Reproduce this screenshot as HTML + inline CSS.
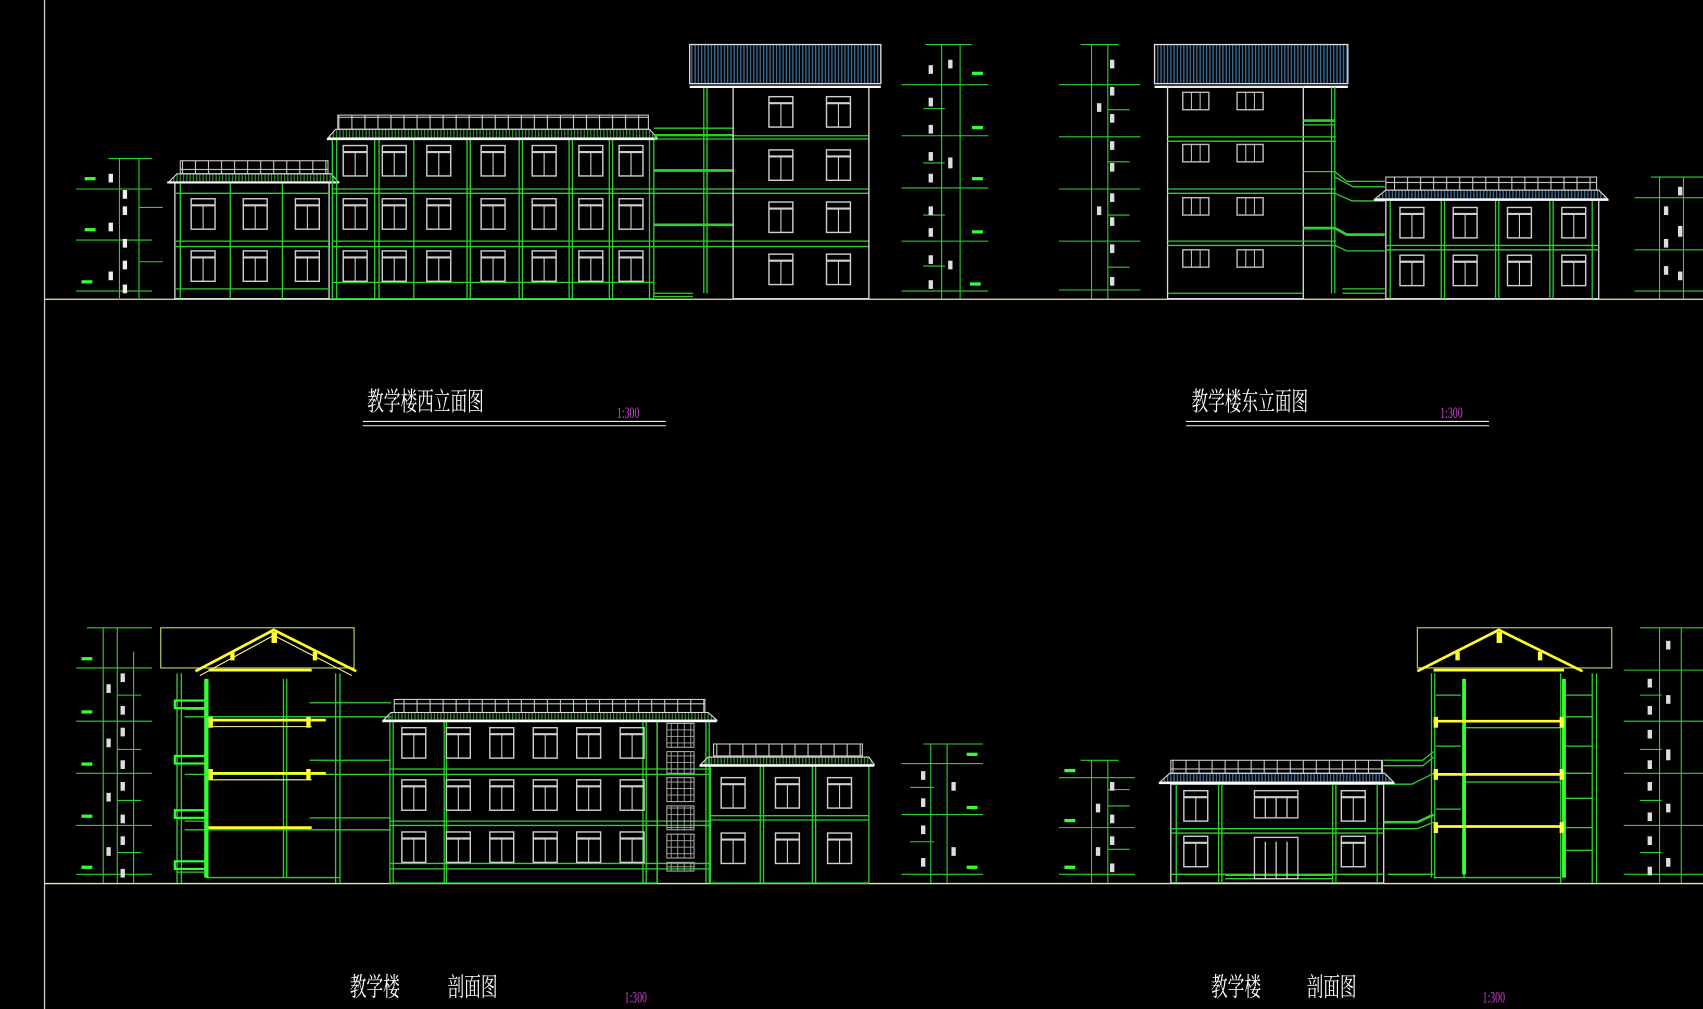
<!DOCTYPE html>
<html><head><meta charset="utf-8"><style>
html,body{margin:0;padding:0;background:#000;overflow:hidden}
svg{display:block}
text{font-family:"Liberation Serif","Noto Serif CJK SC","Noto Sans CJK SC",serif}
</style></head><body>
<svg width="1703" height="1009" viewBox="0 0 1568 929" preserveAspectRatio="none" xmlns="http://www.w3.org/2000/svg">
<defs>
<g id="w"><rect x="0" y="0" width="22" height="28" fill="none" stroke="#cfcfcf" stroke-width="1.3"/><line x1="0" y1="6" x2="22" y2="6" stroke="#cfcfcf" stroke-width="2"/><line x1="11" y1="6" x2="11" y2="28" stroke="#cfcfcf"/></g>
<g id="s"><rect x="0" y="0" width="24" height="16" fill="none" stroke="#bbb" stroke-width="1.3"/><line x1="8" y1="0" x2="8" y2="16" stroke="#bbb"/><line x1="16" y1="0" x2="16" y2="16" stroke="#bbb"/></g>
<pattern id="rail" width="12" height="12" patternUnits="userSpaceOnUse"><rect width="12" height="12" fill="none" stroke="#ccc" stroke-width="1"/></pattern>
<pattern id="blue" width="3" height="10" patternUnits="userSpaceOnUse"><line x1="1" y1="0" x2="1" y2="10" stroke="#3d6f9a" stroke-width="1.2"/></pattern>
<pattern id="gr" width="3" height="10" patternUnits="userSpaceOnUse"><line x1="1" y1="0" x2="1" y2="10" stroke="#3c9a3c" stroke-width="1"/></pattern>
<pattern id="grid" width="6" height="6" patternUnits="userSpaceOnUse"><rect width="6" height="6" fill="none" stroke="#aaa" stroke-width="0.8"/></pattern>
<g id="dimL" stroke="#2fd02f" stroke-width="1" fill="none">
<line x1="40" y1="0" x2="40" y2="130"/><line x1="58" y1="0" x2="58" y2="130"/><line x1="30" y1="0" x2="70" y2="0"/>
<line x1="0" y1="28" x2="70" y2="28"/><line x1="0" y1="75" x2="70" y2="75"/><line x1="0" y1="122" x2="70" y2="122"/>
<line x1="58" y1="45" x2="80" y2="45"/><line x1="58" y1="95" x2="80" y2="95"/>
</g>
</defs>
<rect width="1568" height="929" fill="#000"/>
<line x1="41" y1="0" x2="41" y2="929" stroke="#ccc" stroke-width="1.2"/>

<!-- ======= WEST ELEVATION ======= -->
<line x1="41" y1="275.5" x2="1568" y2="275.5" stroke="#e8e89a" stroke-width="1.2"/>
<g transform="translate(70,146)"><use href="#dimL"/></g>
<g fill="#eee"><rect x="100" y="160" width="4" height="8"/><rect x="100" y="205" width="4" height="8"/><rect x="100" y="250" width="4" height="8"/><rect x="113" y="175" width="4" height="8"/><rect x="113" y="190" width="4" height="8"/><rect x="113" y="220" width="4" height="8"/><rect x="113" y="240" width="4" height="8"/><rect x="113" y="262" width="4" height="8"/></g>
<g fill="#3f3"><rect x="78" y="163" width="10" height="3"/><rect x="78" y="210" width="10" height="3"/><rect x="75" y="258" width="10" height="3"/></g>
<g stroke="#2fd02f" fill="none" stroke-width="1.2">
<rect x="161" y="168" width="142" height="107" stroke="#ddd"/>
<line x1="166" y1="168" x2="166" y2="275"/><line x1="212" y1="168" x2="212" y2="275"/><line x1="260" y1="168" x2="260" y2="275"/>
<line x1="161" y1="178" x2="303" y2="178"/><line x1="161" y1="222" x2="303" y2="222"/><line x1="161" y1="227" x2="303" y2="227"/><line x1="161" y1="266" x2="303" y2="266"/>
</g>
<rect x="166" y="148" width="136" height="12" fill="url(#rail)" stroke="#ccc"/>
<path d="M155 168 L163 160 L305 160 L312 168 Z" fill="url(#gr)" stroke="#ddd"/>
<line x1="154" y1="168" x2="312" y2="168" stroke="#fff" stroke-width="2"/>
<g stroke="#2fd02f" fill="none" stroke-width="1.2">
<rect x="306" y="128" width="296" height="147"/>
<line x1="310" y1="128" x2="310" y2="275"/><line x1="345" y1="128" x2="345" y2="275"/><line x1="349" y1="128" x2="349" y2="275"/><line x1="381" y1="128" x2="381" y2="275"/><line x1="430" y1="128" x2="430" y2="275"/><line x1="433" y1="128" x2="433" y2="275"/><line x1="478" y1="128" x2="478" y2="275"/><line x1="481" y1="128" x2="481" y2="275"/><line x1="524" y1="128" x2="524" y2="275"/><line x1="527" y1="128" x2="527" y2="275"/><line x1="561" y1="128" x2="561" y2="275"/><line x1="564" y1="128" x2="564" y2="275"/><line x1="598" y1="128" x2="598" y2="275"/>
<line x1="306" y1="174" x2="602" y2="174"/><line x1="306" y1="178" x2="602" y2="178"/><line x1="306" y1="222" x2="602" y2="222"/><line x1="306" y1="227" x2="602" y2="227"/><line x1="306" y1="260" x2="602" y2="260"/>
</g>
<rect x="311" y="106" width="286" height="13" fill="url(#rail)" stroke="#ccc"/>
<path d="M302 127 L309 119 L598 119 L605 127 Z" fill="url(#gr)" stroke="#ddd"/>
<line x1="301" y1="128" x2="605" y2="128" stroke="#fff" stroke-width="2"/>
<g stroke="#2fd02f" fill="none" stroke-width="1.2">
<line x1="602" y1="118" x2="675" y2="118"/><line x1="602" y1="124" x2="675" y2="124"/>
<line x1="602" y1="157" x2="675" y2="157" stroke-width="2.5"/><line x1="602" y1="207" x2="675" y2="207" stroke-width="2.5"/>
<line x1="602" y1="174" x2="800" y2="174"/><line x1="602" y1="178" x2="800" y2="178"/><line x1="602" y1="222" x2="800" y2="222"/><line x1="602" y1="227" x2="800" y2="227"/>
<line x1="648" y1="80" x2="648" y2="270"/><line x1="651" y1="80" x2="651" y2="270"/>
<line x1="602" y1="270" x2="638" y2="270"/><line x1="602" y1="273" x2="638" y2="273"/>
<line x1="602" y1="125" x2="800" y2="125"/><line x1="602" y1="128" x2="800" y2="128"/>
</g>
<rect x="675" y="80" width="125" height="195" fill="none" stroke="#ddd" stroke-width="1.2"/>
<rect x="635" y="41" width="176" height="36" fill="url(#blue)" stroke="#ddd" stroke-width="1.2"/>
<line x1="635" y1="80" x2="811" y2="80" stroke="#fff" stroke-width="2"/>
<line x1="635" y1="77" x2="811" y2="77" stroke="#ddd"/>
<g>
<use href="#w" x="176" y="183"/><use href="#w" x="224" y="183"/><use href="#w" x="272" y="183"/>
<use href="#w" x="176" y="231"/><use href="#w" x="224" y="231"/><use href="#w" x="272" y="231"/>
<use href="#w" x="316" y="134"/><use href="#w" x="352" y="134"/><use href="#w" x="393" y="134"/><use href="#w" x="443" y="134"/><use href="#w" x="490" y="134"/><use href="#w" x="533" y="134"/><use href="#w" x="570" y="134"/>
<use href="#w" x="316" y="183"/><use href="#w" x="352" y="183"/><use href="#w" x="393" y="183"/><use href="#w" x="443" y="183"/><use href="#w" x="490" y="183"/><use href="#w" x="533" y="183"/><use href="#w" x="570" y="183"/>
<use href="#w" x="316" y="231"/><use href="#w" x="352" y="231"/><use href="#w" x="393" y="231"/><use href="#w" x="443" y="231"/><use href="#w" x="490" y="231"/><use href="#w" x="533" y="231"/><use href="#w" x="570" y="231"/>
<use href="#w" x="708" y="89"/><use href="#w" x="761" y="89"/><use href="#w" x="708" y="138"/><use href="#w" x="761" y="138"/><use href="#w" x="708" y="186"/><use href="#w" x="761" y="186"/><use href="#w" x="708" y="234"/><use href="#w" x="761" y="234"/>
</g>
<g stroke="#2fd02f" stroke-width="1" fill="none">
<line x1="867" y1="41" x2="867" y2="275"/><line x1="884" y1="41" x2="884" y2="275"/><line x1="852" y1="41" x2="895" y2="41"/>
<line x1="830" y1="78" x2="910" y2="78"/><line x1="830" y1="125" x2="910" y2="125"/><line x1="830" y1="173" x2="910" y2="173"/><line x1="830" y1="222" x2="910" y2="222"/><line x1="830" y1="268" x2="910" y2="268"/>
<line x1="850" y1="100" x2="870" y2="100"/><line x1="850" y1="150" x2="870" y2="150"/><line x1="850" y1="198" x2="870" y2="198"/><line x1="850" y1="245" x2="870" y2="245"/>
</g>
<g fill="#ddd"><rect x="855" y="60" width="4" height="8"/><rect x="855" y="90" width="4" height="8"/><rect x="855" y="115" width="4" height="8"/><rect x="855" y="140" width="4" height="8"/><rect x="855" y="160" width="4" height="8"/><rect x="855" y="190" width="4" height="8"/><rect x="855" y="210" width="4" height="8"/><rect x="855" y="235" width="4" height="8"/><rect x="855" y="258" width="4" height="8"/><rect x="873" y="55" width="4" height="8"/><rect x="873" y="145" width="4" height="10"/><rect x="873" y="240" width="4" height="8"/></g>
<g fill="#3f3"><rect x="895" y="66" width="10" height="3"/><rect x="895" y="116" width="10" height="3"/><rect x="895" y="163" width="10" height="3"/><rect x="895" y="212" width="10" height="3"/><rect x="893" y="260" width="10" height="3"/></g>

<text transform="translate(338,378) scale(0.64,1)" font-size="24" fill="#fff">教学楼西立面图</text>
<text transform="translate(568,385) scale(0.7,1.1)" font-size="13" fill="#d040d0">1:300</text>
<line x1="334" y1="388" x2="613" y2="388" stroke="#eee"/><line x1="334" y1="392" x2="613" y2="392" stroke="#eee"/>

<!-- ======= EAST ELEVATION ======= -->
<g transform="translate(975,41)" stroke="#2fd02f" stroke-width="1" fill="none">
<line x1="30" y1="0" x2="30" y2="234"/><line x1="45" y1="0" x2="45" y2="234"/><line x1="20" y1="0" x2="55" y2="0"/>
<line x1="0" y1="37" x2="75" y2="37"/><line x1="0" y1="85" x2="75" y2="85"/><line x1="0" y1="133" x2="75" y2="133"/><line x1="0" y1="181" x2="75" y2="181"/><line x1="0" y1="226" x2="75" y2="226"/>
<line x1="45" y1="60" x2="65" y2="60"/><line x1="45" y1="108" x2="65" y2="108"/><line x1="45" y1="157" x2="65" y2="157"/><line x1="45" y1="205" x2="65" y2="205"/>
</g>
<g fill="#ddd"><rect x="1010" y="95" width="4" height="8"/><rect x="1010" y="190" width="4" height="8"/><rect x="1022" y="55" width="4" height="8"/><rect x="1022" y="80" width="4" height="8"/><rect x="1022" y="105" width="4" height="8"/><rect x="1022" y="130" width="4" height="8"/><rect x="1022" y="150" width="4" height="8"/><rect x="1022" y="178" width="4" height="8"/><rect x="1022" y="200" width="4" height="8"/><rect x="1022" y="225" width="4" height="8"/><rect x="1022" y="255" width="4" height="8"/></g>
<rect x="1063" y="41" width="178" height="36" fill="url(#blue)" stroke="#ddd" stroke-width="1.2"/>
<line x1="1063" y1="80" x2="1241" y2="80" stroke="#fff" stroke-width="2"/>
<rect x="1075" y="80" width="125" height="195" fill="none" stroke="#ddd" stroke-width="1.2"/>
<g stroke="#2fd02f" fill="none" stroke-width="1.2">
<line x1="1075" y1="126" x2="1230" y2="126"/><line x1="1075" y1="130" x2="1230" y2="130"/><line x1="1075" y1="174" x2="1230" y2="174"/><line x1="1075" y1="178" x2="1230" y2="178"/><line x1="1075" y1="222" x2="1230" y2="222"/><line x1="1075" y1="226" x2="1230" y2="226"/><line x1="1075" y1="270" x2="1200" y2="270"/>
<line x1="1226" y1="80" x2="1226" y2="270"/><line x1="1229" y1="80" x2="1229" y2="270"/>
<line x1="1200" y1="111" x2="1229" y2="111" stroke-width="2.5"/><line x1="1200" y1="115" x2="1229" y2="115"/>
<path d="M1200 158 L1229 158 L1240 167 L1275 167"/><path d="M1229 163 L1246 172 L1275 172"/>
<path d="M1229 178 L1245 185 L1275 185"/>
<path d="M1200 210 L1229 210 L1240 216 L1275 216" stroke-width="2.5"/>
<path d="M1229 226 L1240 231 L1275 231"/>
<line x1="1236" y1="266" x2="1275" y2="266"/><line x1="1236" y1="270" x2="1275" y2="270"/>
<rect x="1276" y="184" width="196" height="91" stroke="#ddd"/>
<line x1="1280" y1="184" x2="1280" y2="275"/><line x1="1327" y1="184" x2="1327" y2="275"/><line x1="1330" y1="184" x2="1330" y2="275"/><line x1="1377" y1="184" x2="1377" y2="275"/><line x1="1380" y1="184" x2="1380" y2="275"/><line x1="1427" y1="184" x2="1427" y2="275"/><line x1="1430" y1="184" x2="1430" y2="275"/><line x1="1466" y1="184" x2="1466" y2="275"/>
<line x1="1276" y1="226" x2="1472" y2="226"/><line x1="1276" y1="230" x2="1472" y2="230"/>
</g>
<rect x="1276" y="163" width="194" height="12" fill="url(#rail)" stroke="#ccc"/>
<path d="M1266 183 L1276 175 L1472 175 L1480 183 Z" fill="url(#blue)" stroke="#ddd"/>
<line x1="1265" y1="184" x2="1481" y2="184" stroke="#fff" stroke-width="2"/>
<g>
<use href="#s" x="1089" y="85"/><use href="#s" x="1139" y="85"/><use href="#s" x="1089" y="133"/><use href="#s" x="1139" y="133"/><use href="#s" x="1089" y="182"/><use href="#s" x="1139" y="182"/><use href="#s" x="1089" y="230"/><use href="#s" x="1139" y="230"/>
<use href="#w" x="1289" y="191"/><use href="#w" x="1338" y="191"/><use href="#w" x="1388" y="191"/><use href="#w" x="1438" y="191"/>
<use href="#w" x="1289" y="235"/><use href="#w" x="1338" y="235"/><use href="#w" x="1388" y="235"/><use href="#w" x="1438" y="235"/>
</g>
<g stroke="#2fd02f" stroke-width="1" fill="none">
<line x1="1528" y1="163" x2="1528" y2="275"/><line x1="1550" y1="163" x2="1550" y2="275"/><line x1="1520" y1="163" x2="1568" y2="163"/>
<line x1="1505" y1="182" x2="1568" y2="182"/><line x1="1505" y1="230" x2="1568" y2="230"/><line x1="1505" y1="268" x2="1568" y2="268"/>
</g>
<g fill="#ddd"><rect x="1532" y="190" width="4" height="8"/><rect x="1532" y="220" width="4" height="8"/><rect x="1532" y="245" width="4" height="8"/><rect x="1545" y="172" width="4" height="8"/><rect x="1545" y="208" width="4" height="10"/><rect x="1545" y="250" width="4" height="8"/></g>

<text transform="translate(1097,378) scale(0.64,1)" font-size="24" fill="#fff">教学楼东立面图</text>
<text transform="translate(1326,385) scale(0.7,1.1)" font-size="13" fill="#d040d0">1:300</text>
<line x1="1092" y1="388" x2="1371" y2="388" stroke="#eee"/><line x1="1092" y1="392" x2="1371" y2="392" stroke="#eee"/>

<!-- ======= SECTION LEFT ======= -->
<line x1="41" y1="813.5" x2="1568" y2="813.5" stroke="#e8e89a" stroke-width="1.2"/>
<g stroke="#2fd02f" stroke-width="1" fill="none">
<line x1="95" y1="578" x2="95" y2="813"/><line x1="108" y1="578" x2="108" y2="813"/><line x1="123" y1="600" x2="123" y2="813"/><line x1="80" y1="578" x2="140" y2="578"/>
<line x1="70" y1="615" x2="140" y2="615"/><line x1="70" y1="664" x2="140" y2="664"/><line x1="70" y1="712" x2="140" y2="712"/><line x1="70" y1="760" x2="140" y2="760"/><line x1="70" y1="805" x2="140" y2="805"/>
<line x1="108" y1="640" x2="130" y2="640"/><line x1="108" y1="690" x2="130" y2="690"/><line x1="108" y1="737" x2="130" y2="737"/><line x1="108" y1="785" x2="130" y2="785"/>
</g>
<g fill="#ddd"><rect x="98" y="630" width="4" height="8"/><rect x="98" y="680" width="4" height="8"/><rect x="98" y="730" width="4" height="8"/><rect x="98" y="780" width="4" height="8"/><rect x="111" y="620" width="4" height="8"/><rect x="111" y="650" width="4" height="8"/><rect x="111" y="670" width="4" height="8"/><rect x="111" y="700" width="4" height="8"/><rect x="111" y="720" width="4" height="8"/><rect x="111" y="750" width="4" height="8"/><rect x="111" y="770" width="4" height="8"/><rect x="111" y="800" width="4" height="8"/></g>
<g fill="#3f3"><rect x="75" y="605" width="10" height="3"/><rect x="75" y="654" width="10" height="3"/><rect x="75" y="702" width="10" height="3"/><rect x="75" y="750" width="10" height="3"/><rect x="75" y="797" width="10" height="3"/></g>
<rect x="148" y="578" width="178" height="37" fill="none" stroke="#c8e060" stroke-width="1"/>
<g stroke="#2fd02f" fill="none" stroke-width="1.2">
<line x1="167" y1="620" x2="167" y2="813"/><line x1="163" y1="620" x2="163" y2="813"/><line x1="313" y1="620" x2="313" y2="813"/><line x1="309" y1="620" x2="309" y2="813"/>
<line x1="261" y1="625" x2="261" y2="808"/><line x1="264" y1="625" x2="264" y2="808"/>
<line x1="163" y1="803" x2="190" y2="803"/><line x1="190" y1="808" x2="313" y2="808"/>
<line x1="170" y1="703" x2="190" y2="703"/><line x1="170" y1="756" x2="190" y2="756"/><line x1="170" y1="653" x2="190" y2="653"/>
<line x1="285" y1="700" x2="360" y2="700"/><line x1="285" y1="647" x2="360" y2="647"/><line x1="285" y1="753" x2="360" y2="753"/>
<line x1="170" y1="660" x2="360" y2="660"/><line x1="170" y1="713" x2="360" y2="713"/><line x1="170" y1="764" x2="360" y2="764"/>
</g>
<line x1="190" y1="625" x2="190" y2="808" stroke="#33ff33" stroke-width="4"/>
<rect x="161" y="645" width="29" height="7" fill="none" stroke="#3f3" stroke-width="2"/>
<rect x="161" y="696" width="29" height="7" fill="none" stroke="#3f3" stroke-width="2"/>
<rect x="161" y="746" width="29" height="7" fill="none" stroke="#3f3" stroke-width="2"/>
<rect x="161" y="793" width="29" height="7" fill="none" stroke="#3f3" stroke-width="2"/>
<g stroke="#ffff30" stroke-width="2.5" fill="none">
<path d="M180 618 L252 580 L328 618"/>
<line x1="192" y1="617" x2="287" y2="617"/><line x1="192" y1="663" x2="287" y2="663"/><line x1="192" y1="712" x2="287" y2="712"/><line x1="192" y1="762" x2="287" y2="762"/>
<line x1="287" y1="663" x2="300" y2="663"/><line x1="287" y1="712" x2="300" y2="712"/>
</g>
<g stroke="#ffff90" stroke-width="1" fill="none"><path d="M184 622 L252 585 L324 622"/><line x1="192" y1="669" x2="287" y2="669"/><line x1="192" y1="718" x2="287" y2="718"/></g>
<g fill="#ff3"><rect x="250" y="582" width="5" height="10"/><rect x="212" y="600" width="4" height="8"/><rect x="288" y="600" width="4" height="8"/><rect x="192" y="660" width="4" height="10"/><rect x="282" y="660" width="4" height="10"/><rect x="192" y="708" width="4" height="10"/><rect x="282" y="708" width="4" height="10"/></g>
<g stroke="#2fd02f" fill="none" stroke-width="1.2">
<rect x="359" y="664" width="246" height="149"/>
<line x1="362" y1="664" x2="362" y2="813"/><line x1="409" y1="664" x2="409" y2="813"/><line x1="411" y1="664" x2="411" y2="813"/><line x1="592" y1="664" x2="592" y2="813"/><line x1="595" y1="664" x2="595" y2="813"/>
<line x1="359" y1="708" x2="655" y2="708"/><line x1="359" y1="713" x2="655" y2="713"/><line x1="359" y1="756" x2="655" y2="756"/><line x1="359" y1="760" x2="655" y2="760"/><line x1="359" y1="795" x2="655" y2="795"/><line x1="359" y1="800" x2="655" y2="800"/>
<line x1="605" y1="664" x2="605" y2="813"/><line x1="650" y1="664" x2="650" y2="813"/><line x1="653" y1="664" x2="653" y2="813"/>
</g>
<rect x="363" y="644" width="286" height="12" fill="url(#rail)" stroke="#ccc"/>
<path d="M353 663 L360 656 L652 656 L660 663 Z" fill="url(#gr)" stroke="#ddd"/>
<line x1="352" y1="664" x2="660" y2="664" stroke="#fff" stroke-width="2"/>
<g fill="url(#grid)" stroke="#aaa"><rect x="614" y="666" width="25" height="22"/><rect x="614" y="692" width="25" height="20"/><rect x="614" y="716" width="25" height="22"/><rect x="614" y="742" width="25" height="22"/><rect x="614" y="768" width="25" height="22"/><rect x="614" y="794" width="25" height="8"/></g>
<g stroke="#2fd02f" fill="none" stroke-width="1.2">
<rect x="654" y="705" width="146" height="108"/>
<line x1="700" y1="705" x2="700" y2="813"/><line x1="703" y1="705" x2="703" y2="813"/><line x1="748" y1="705" x2="748" y2="813"/><line x1="751" y1="705" x2="751" y2="813"/>
<line x1="654" y1="751" x2="800" y2="751"/><line x1="654" y1="755" x2="800" y2="755"/>
</g>
<rect x="657" y="685" width="137" height="12" fill="url(#rail)" stroke="#ccc"/>
<path d="M645 704 L652 697 L800 697 L805 704 Z" fill="url(#gr)" stroke="#ddd"/>
<line x1="644" y1="705" x2="805" y2="705" stroke="#fff" stroke-width="2"/>
<g>
<use href="#w" x="370" y="670"/><use href="#w" x="411" y="670"/><use href="#w" x="451" y="670"/><use href="#w" x="491" y="670"/><use href="#w" x="531" y="670"/><use href="#w" x="571" y="670"/>
<use href="#w" x="370" y="718"/><use href="#w" x="411" y="718"/><use href="#w" x="451" y="718"/><use href="#w" x="491" y="718"/><use href="#w" x="531" y="718"/><use href="#w" x="571" y="718"/>
<use href="#w" x="370" y="766"/><use href="#w" x="411" y="766"/><use href="#w" x="451" y="766"/><use href="#w" x="491" y="766"/><use href="#w" x="531" y="766"/><use href="#w" x="571" y="766"/>
<use href="#w" x="664" y="716"/><use href="#w" x="714" y="716"/><use href="#w" x="762" y="716"/>
<use href="#w" x="664" y="767"/><use href="#w" x="714" y="767"/><use href="#w" x="762" y="767"/>
</g>
<g stroke="#2fd02f" stroke-width="1" fill="none">
<line x1="857" y1="685" x2="857" y2="813"/><line x1="872" y1="685" x2="872" y2="813"/><line x1="850" y1="685" x2="905" y2="685"/>
<line x1="830" y1="703" x2="905" y2="703"/><line x1="830" y1="750" x2="905" y2="750"/><line x1="830" y1="805" x2="905" y2="805"/>
<line x1="838" y1="725" x2="860" y2="725"/><line x1="838" y1="775" x2="860" y2="775"/>
</g>
<g fill="#ddd"><rect x="848" y="710" width="4" height="8"/><rect x="848" y="735" width="4" height="8"/><rect x="848" y="760" width="4" height="8"/><rect x="848" y="790" width="4" height="8"/><rect x="876" y="720" width="4" height="8"/><rect x="876" y="780" width="4" height="8"/></g>
<g fill="#3f3"><rect x="890" y="693" width="10" height="3"/><rect x="890" y="742" width="10" height="3"/><rect x="890" y="797" width="10" height="3"/></g>

<text transform="translate(322,917) scale(0.64,1)" font-size="24" fill="#fff">教学楼</text>
<text transform="translate(412,917) scale(0.64,1)" font-size="24" fill="#fff">剖面图</text>
<text transform="translate(575,923) scale(0.7,1.1)" font-size="13" fill="#d040d0">1:300</text>

<!-- ======= SECTION RIGHT ======= -->
<g stroke="#2fd02f" stroke-width="1" fill="none">
<line x1="1005" y1="700" x2="1005" y2="813"/><line x1="1020" y1="700" x2="1020" y2="813"/><line x1="995" y1="700" x2="1030" y2="700"/>
<line x1="975" y1="716" x2="1045" y2="716"/><line x1="975" y1="762" x2="1045" y2="762"/><line x1="975" y1="805" x2="1045" y2="805"/>
<line x1="1020" y1="727" x2="1040" y2="727"/><line x1="1020" y1="742" x2="1040" y2="742"/><line x1="1020" y1="782" x2="1040" y2="782"/>
</g>
<g fill="#ddd"><rect x="1009" y="740" width="4" height="8"/><rect x="1009" y="780" width="4" height="8"/><rect x="1022" y="720" width="4" height="8"/><rect x="1022" y="750" width="4" height="8"/><rect x="1022" y="770" width="4" height="8"/><rect x="1022" y="795" width="4" height="8"/></g>
<g fill="#3f3"><rect x="980" y="708" width="10" height="3"/><rect x="980" y="754" width="10" height="3"/><rect x="980" y="797" width="10" height="3"/></g>
<g stroke="#2fd02f" fill="none" stroke-width="1.2">
<rect x="1078" y="722" width="196" height="91" stroke="#ddd"/>
<line x1="1083" y1="722" x2="1083" y2="813"/><line x1="1122" y1="722" x2="1122" y2="813"/><line x1="1125" y1="722" x2="1125" y2="813"/><line x1="1227" y1="722" x2="1227" y2="813"/><line x1="1230" y1="722" x2="1230" y2="813"/><line x1="1268" y1="722" x2="1268" y2="813"/>
<line x1="1078" y1="763" x2="1274" y2="763"/><line x1="1078" y1="767" x2="1274" y2="767"/><line x1="1078" y1="805" x2="1274" y2="805"/>
<line x1="1128" y1="806" x2="1227" y2="806"/><line x1="1128" y1="809" x2="1227" y2="809"/>
<path d="M1274 700 L1310 700 L1320 692"/><path d="M1274 705 L1310 705 L1320 697"/>
<path d="M1274 722 L1300 722 L1320 712"/><path d="M1274 757 L1305 757 L1320 750" stroke-width="2.5"/><path d="M1274 763 L1305 763 L1320 757"/>
<line x1="1278" y1="805" x2="1320" y2="805"/>
</g>
<rect x="1078" y="700" width="195" height="12" fill="url(#rail)" stroke="#ccc"/>
<path d="M1068 720 L1077 712 L1275 712 L1283 720 Z" fill="url(#blue)" stroke="#ddd"/>
<line x1="1067" y1="721" x2="1284" y2="721" stroke="#fff" stroke-width="2"/>
<use href="#w" x="1090" y="728"/><use href="#w" x="1235" y="728"/><use href="#w" x="1090" y="770"/><use href="#w" x="1235" y="770"/>
<g stroke="#ccc" fill="none" stroke-width="1.2"><rect x="1155" y="728" width="40" height="25"/><line x1="1155" y1="734" x2="1195" y2="734" stroke-width="2"/><line x1="1165" y1="734" x2="1165" y2="753"/><line x1="1175" y1="734" x2="1175" y2="753"/><line x1="1185" y1="734" x2="1185" y2="753"/>
<rect x="1155" y="771" width="40" height="38"/><line x1="1165" y1="775" x2="1165" y2="809"/><line x1="1175" y1="775" x2="1175" y2="809"/><line x1="1185" y1="775" x2="1185" y2="809"/></g>
<rect x="1305" y="578" width="179" height="37" fill="none" stroke="#c8e060" stroke-width="1"/>
<g stroke="#2fd02f" fill="none" stroke-width="1.2">
<line x1="1318" y1="620" x2="1318" y2="808"/><line x1="1321" y1="620" x2="1321" y2="808"/><line x1="1437" y1="620" x2="1437" y2="813"/><line x1="1466" y1="620" x2="1466" y2="813"/><line x1="1470" y1="620" x2="1470" y2="813"/>
<line x1="1348" y1="625" x2="1348" y2="808"/>
<line x1="1320" y1="808" x2="1437" y2="808"/>
<line x1="1322" y1="640" x2="1345" y2="640"/><line x1="1322" y1="687" x2="1345" y2="687"/><line x1="1322" y1="745" x2="1345" y2="745"/>
<line x1="1440" y1="640" x2="1466" y2="640"/><line x1="1440" y1="687" x2="1466" y2="687"/><line x1="1440" y1="735" x2="1466" y2="735"/><line x1="1440" y1="783" x2="1466" y2="783"/>
<line x1="1440" y1="660" x2="1466" y2="660"/><line x1="1440" y1="712" x2="1466" y2="712"/><line x1="1440" y1="762" x2="1466" y2="762"/>
<line x1="1348" y1="670" x2="1437" y2="670"/><line x1="1348" y1="720" x2="1437" y2="720"/>
</g>
<line x1="1348" y1="625" x2="1348" y2="805" stroke="#33ff33" stroke-width="3.5"/>
<line x1="1440" y1="625" x2="1440" y2="808" stroke="#33ff33" stroke-width="3.5"/>
<g stroke="#ffff30" stroke-width="2.5" fill="none">
<path d="M1305 618 L1380 580 L1457 618"/>
<line x1="1320" y1="617" x2="1440" y2="617"/><line x1="1320" y1="664" x2="1440" y2="664"/><line x1="1320" y1="713" x2="1440" y2="713"/><line x1="1320" y1="761" x2="1440" y2="761"/>
</g>
<g fill="#ff3"><rect x="1378" y="582" width="5" height="10"/><rect x="1340" y="600" width="4" height="8"/><rect x="1416" y="600" width="4" height="8"/><rect x="1320" y="660" width="4" height="10"/><rect x="1436" y="660" width="4" height="10"/><rect x="1320" y="708" width="4" height="10"/><rect x="1436" y="708" width="4" height="10"/><rect x="1320" y="757" width="4" height="10"/><rect x="1436" y="757" width="4" height="10"/></g>
<g stroke="#2fd02f" stroke-width="1" fill="none">
<line x1="1528" y1="578" x2="1528" y2="813"/><line x1="1548" y1="578" x2="1548" y2="813"/><line x1="1510" y1="578" x2="1568" y2="578"/>
<line x1="1495" y1="617" x2="1568" y2="617"/><line x1="1495" y1="664" x2="1568" y2="664"/><line x1="1495" y1="712" x2="1568" y2="712"/><line x1="1495" y1="760" x2="1568" y2="760"/><line x1="1495" y1="805" x2="1568" y2="805"/>
<line x1="1510" y1="640" x2="1530" y2="640"/><line x1="1510" y1="690" x2="1530" y2="690"/><line x1="1510" y1="737" x2="1530" y2="737"/><line x1="1510" y1="785" x2="1530" y2="785"/>
</g>
<g fill="#ddd"><rect x="1517" y="625" width="4" height="8"/><rect x="1517" y="650" width="4" height="8"/><rect x="1517" y="672" width="4" height="8"/><rect x="1517" y="700" width="4" height="8"/><rect x="1517" y="720" width="4" height="8"/><rect x="1517" y="748" width="4" height="8"/><rect x="1517" y="770" width="4" height="8"/><rect x="1517" y="798" width="4" height="8"/><rect x="1534" y="590" width="4" height="8"/><rect x="1534" y="640" width="4" height="8"/><rect x="1534" y="690" width="4" height="10"/><rect x="1534" y="740" width="4" height="8"/><rect x="1534" y="790" width="4" height="8"/></g>

<text transform="translate(1115,917) scale(0.64,1)" font-size="24" fill="#fff">教学楼</text>
<text transform="translate(1203,917) scale(0.64,1)" font-size="24" fill="#fff">剖面图</text>
<text transform="translate(1365,923) scale(0.7,1.1)" font-size="13" fill="#d040d0">1:300</text>
</svg>
</body></html>
